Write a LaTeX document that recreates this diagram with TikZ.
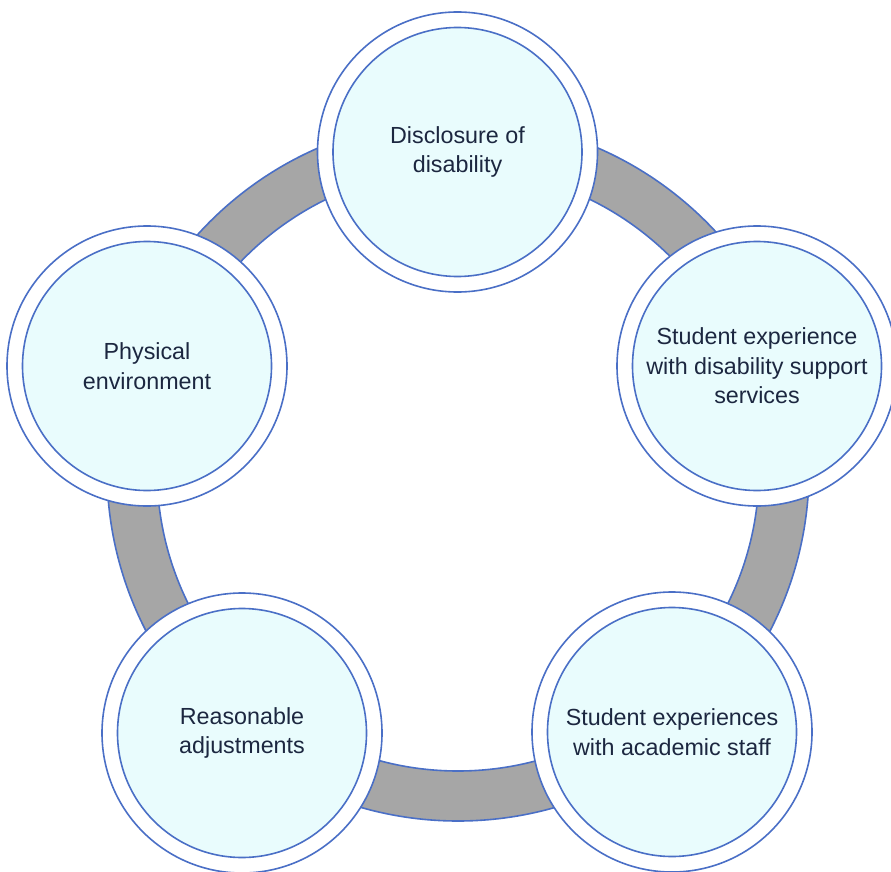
\documentclass[tikz,border=0pt]{standalone}
\usepackage{fontspec}
\setmainfont{Liberation Sans}
\definecolor{ringblue}{HTML}{4A6FC6}
\definecolor{bandgrey}{HTML}{A6A6A6}
\definecolor{discfill}{HTML}{E9FCFD}
\definecolor{labelink}{HTML}{1C2740}
\tikzset{
  band/.style={draw=ringblue, line width=1.6pt, fill=bandgrey, even odd rule},
  halo/.style={circle, draw=ringblue, line width=1.6pt, fill=white, minimum size=280pt, inner sep=0pt},
  disc/.style={circle, draw=ringblue, line width=1.6pt, fill=discfill, minimum size=249pt, inner sep=0pt,
    text=labelink, align=center, font=\fontsize{23.3}{29.5}\selectfont},
}
\begin{document}
\begin{tikzpicture}[x=1pt,y=-1pt]
  \useasboundingbox (0,0) rectangle (891,872);
  % connecting ring behind the discs
  \coordinate (hub) at (458,470);
  \path[band] (hub) circle[radius=351pt] (hub) circle[radius=301pt];
  % white halos
  \node[halo] (disclosureO) at (457.5,152) {};
  \node[halo] (supportO) at (757,366) {};
  \node[halo] (staffO) at (672,732) {};
  \node[halo] (adjustO) at (242,733) {};
  \node[halo] (physicalO) at (147,366) {};
  % labelled discs
  \node[disc] (disclosure) at (disclosureO) {Disclosure of\\disability};
  \node[disc] (support) at (supportO) {Student experience\\with disability support\\services};
  \node[disc] (staff) at (staffO) {Student experiences\\with academic staff};
  \node[disc] (adjust) at (adjustO) {Reasonable\\adjustments};
  \node[disc] (physical) at (physicalO) {Physical\\environment};
\end{tikzpicture}
\end{document}
